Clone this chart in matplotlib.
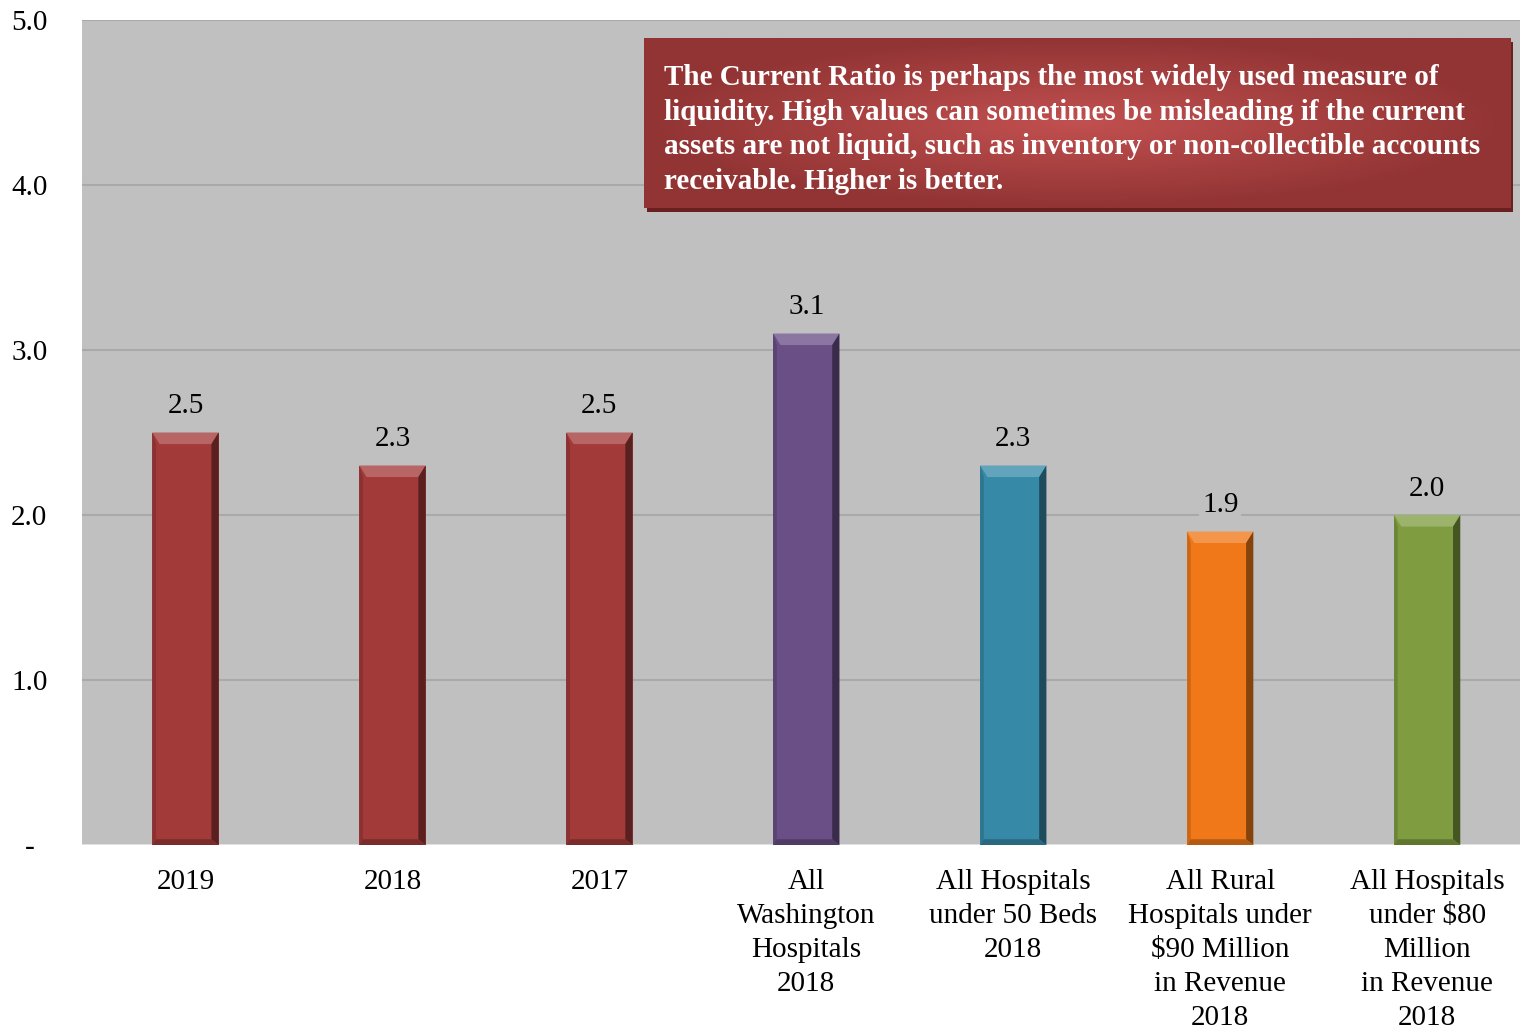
import matplotlib
matplotlib.use("Agg")
import matplotlib.pyplot as plt
import numpy as np
from matplotlib.patches import Polygon

categories = ["2019", "2018", "2017", "All\nWashington\nHospitals\n2018",
              "All Hospitals\nunder 50 Beds\n2018",
              "All Rural\nHospitals under\n$90 Million\nin Revenue\n2018",
              "All Hospitals\nunder $80\nMillion\nin Revenue\n2018"]
values = [2.5, 2.3, 2.5, 3.1, 2.3, 1.9, 2.0]
colors = ["#a33a3a", "#a33a3a", "#a33a3a", "#6a4f87", "#368aa8", "#f07818", "#7f9d40"]
yticks = [0, 1, 2, 3, 4, 5]
ytick_labels = ["-", "1.0", "2.0", "3.0", "4.0", "5.0"]
note = ("The Current Ratio is perhaps the most widely used measure of\n"
        "liquidity. High values can sometimes be misleading if the current\n"
        "assets are not liquid, such as inventory or non-collectible accounts\n"
        "receivable. Higher is better.")

plt.rcParams["font.family"] = ["Liberation Serif", "DejaVu Serif"]

fig = plt.figure(figsize=(15.2, 10.31), dpi=100)
# plot area runs a little past the right edge of the figure
ax = fig.add_axes([0.054, 0.1804, 0.953, 0.8002])
ax.set_facecolor("#c0c0c0")
ax.set_xlim(-0.5, len(values) - 0.5)
ax.set_ylim(0, 5)
for y in yticks[1:]:
    ax.axhline(y, color="#a9a9a9", lw=1.5, zorder=1)
ax.axhline(0, color="#e6e6e6", lw=2, zorder=1)

x = np.arange(len(values))
w = 0.32
bars = ax.bar(x, values, width=w, color=colors, zorder=2)


def shade(c, f):
    rgb = np.array(matplotlib.colors.to_rgb(c))
    if f > 0:
        return tuple(rgb + (1 - rgb) * f)
    return tuple(rgb * (1 + f))


# bevel: light top cap, dark right edge, slightly dark left/bottom edges
bx = 0.035
by = 0.07
for xi, v, c in zip(x, values, colors):
    l, r = xi - w / 2, xi + w / 2
    ax.add_patch(Polygon([(l, v), (r, v), (r - bx, v - by), (l + bx, v - by)],
                         closed=True, color=shade(c, 0.22), lw=0, zorder=3))
    ax.add_patch(Polygon([(r, v), (r, 0), (r - bx, by * 0.5), (r - bx, v - by)],
                         closed=True, color=shade(c, -0.45), lw=0, zorder=3))
    ax.add_patch(Polygon([(l, v), (l, 0), (l + bx * 0.5, by * 0.5), (l + bx * 0.5, v - by)],
                         closed=True, color=shade(c, -0.15), lw=0, zorder=3))
    ax.add_patch(Polygon([(l, 0), (r, 0), (r - bx, by * 0.5), (l + bx * 0.5, by * 0.5)],
                         closed=True, color=shade(c, -0.25), lw=0, zorder=3))
    ax.text(xi, v + 0.08, f"{v:.1f}", ha="center", va="bottom", fontsize=21,
            zorder=4, bbox=dict(facecolor="#c0c0c0", edgecolor="none", pad=2))

ax.set_yticks(yticks)
ax.set_yticklabels(ytick_labels, fontsize=21)
ax.set_xticks(x)
ax.set_xticklabels(categories, fontsize=21, linespacing=1.4)
ax.tick_params(length=0, pad=17)
ax.tick_params(axis="y", pad=38)
for lab in ax.get_yticklabels():
    lab.set_horizontalalignment("center")
for s in ax.spines.values():
    s.set_visible(False)

# note box with radial gradient and drop shadow
bx0, by0, bw, bh = 0.4235, 0.7985, 0.57, 0.165
ax_sh = fig.add_axes([bx0 + 0.002, by0 - 0.004, bw, bh])
ax_sh.set_facecolor("#6b2020")
ax_sh.set_xticks([]); ax_sh.set_yticks([])
for s in ax_sh.spines.values():
    s.set_visible(False)
ax_n = fig.add_axes([bx0, by0, bw, bh])
gx, gy = np.meshgrid(np.linspace(-1, 1, 300), np.linspace(-1, 1, 100))
rr = np.clip(np.sqrt(gx ** 2 + gy ** 2), 0, 1)
c_in = np.array(matplotlib.colors.to_rgb("#c25050"))
c_out = np.array(matplotlib.colors.to_rgb("#923434"))
img = c_in[None, None, :] * (1 - rr[..., None]) + c_out[None, None, :] * rr[..., None]
ax_n.imshow(img, extent=[0, 1, 0, 1], aspect="auto")
ax_n.set_xlim(0, 1); ax_n.set_ylim(0, 1)
ax_n.set_xticks([]); ax_n.set_yticks([])
for s in ax_n.spines.values():
    s.set_visible(False)
ax_n.text(0.023, 0.46, note, color="white", fontsize=21, fontweight="bold",
          ha="left", va="center", linespacing=1.37)

fig.savefig("out.png", dpi=100)
